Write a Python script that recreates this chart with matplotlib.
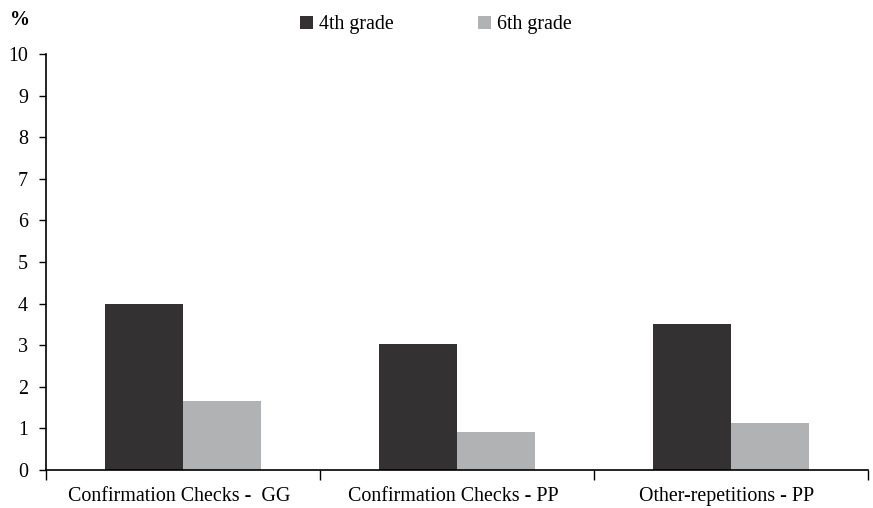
import matplotlib.pyplot as plt
import matplotlib.transforms as mtransforms
import numpy as np

categories = ['Confirmation Checks -  GG', 'Confirmation Checks - PP', 'Other-repetitions - PP']
grade4 = [4.0, 3.03, 3.5]
grade6 = [1.67, 0.92, 1.12]
yticks = list(range(0, 11))

plt.rcParams['font.family'] = ['Liberation Serif', 'DejaVu Serif']

fig = plt.figure(figsize=(8.73, 5.08), dpi=100)
ax = fig.add_axes([46 / 873, 1 - 470 / 508, (868 - 46) / 873, (470 - 54) / 508])

x = np.arange(len(categories))
w = 0.285
ax.bar(x - w / 2, grade4, w, color='#333132', label='4th grade')
ax.bar(x + w / 2, grade6, w, color='#b1b2b4', label='6th grade')

ax.set_xlim(-0.5, len(categories) - 0.5)
ax.set_ylim(0, 10)
ax.set_yticks(yticks)
ax.tick_params(axis='y', labelsize=14.4, length=5, width=1, direction='out', pad=8)

# category boundaries as ticks, labels centred between them
ax.set_xticks(np.arange(-0.5, len(categories)), minor=False)
ax.set_xticklabels([])
ax.set_xticks(x, minor=True)
ax.set_xticklabels(categories, minor=True)
ax.tick_params(axis='x', which='major', length=7, width=1, direction='out')
ax.tick_params(axis='x', which='minor', length=0, labelsize=14.4, pad=12)
shift = mtransforms.ScaledTranslation(-4 / 100, 0, fig.dpi_scale_trans)
for lbl in ax.get_xticklabels(minor=True):
    lbl.set_transform(lbl.get_transform() + shift)

for s in ['top', 'right']:
    ax.spines[s].set_visible(False)
for s in ['left', 'bottom']:
    ax.spines[s].set_linewidth(1.2)

fig.text(10 / 873, 1 - 20 / 508, '%', fontsize=14.4, fontweight='bold', va='center')

ax.legend(loc='center', bbox_to_anchor=(436 / 873, 1 - 25 / 508),
          bbox_transform=fig.transFigure, ncol=2, frameon=False, fontsize=14.4,
          handlelength=0.65, handleheight=0.65, handletextpad=0.3, columnspacing=4.2)

fig.savefig('out.png', dpi=100)
